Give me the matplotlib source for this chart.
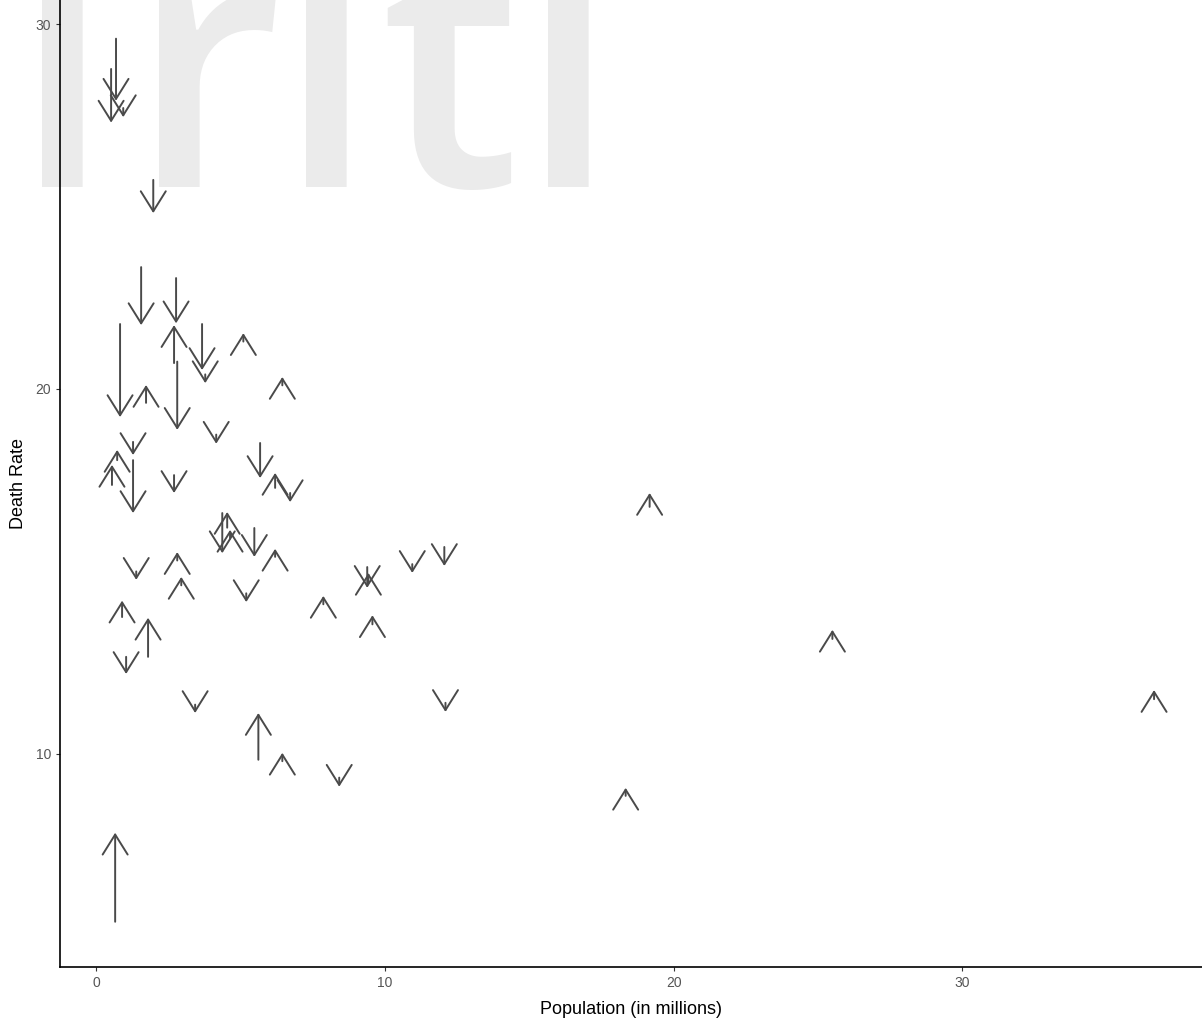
import matplotlib.pyplot as plt

# population (millions) and death rate at start / end of each arrow
pop = [0.69, 0.52, 0.94, 1.98, 1.56, 2.77, 2.70, 2.81, 3.67, 3.78,
       5.10, 6.45, 0.83, 1.73, 1.28, 0.73, 0.55, 1.28, 2.70, 4.16,
       5.68, 6.20, 6.72, 4.37, 4.54, 4.64, 5.48, 6.20, 1.39, 2.81,
       2.95, 5.20, 7.87, 0.90, 1.80, 1.04, 9.39, 9.43, 10.95, 12.06,
       9.57, 12.10, 19.17, 25.50, 18.34, 36.64, 3.43, 5.62, 6.45, 8.42,
       0.66]
rate_from = [29.6, 28.77, 27.7, 25.73, 23.34, 23.04, 20.71, 20.75, 21.78, 20.4,
             21.3, 20.1, 21.78, 19.62, 18.55, 18.05, 17.37, 18.05, 17.64, 18.75,
             18.52, 17.29, 17.15, 16.6, 16.2, 15.9, 16.19, 15.4, 15.0, 15.3,
             14.62, 14.4, 14.1, 13.75, 12.66, 12.66, 15.12, 14.7, 15.2, 15.67,
             13.55, 11.4, 16.77, 13.15, 8.85, 11.5, 11.35, 9.84, 9.8, 9.35,
             5.4]
rate_to = [27.9, 27.3, 27.45, 24.82, 21.75, 21.8, 21.75, 18.88, 20.52, 20.16,
           21.53, 20.33, 19.23, 20.11, 18.19, 18.33, 17.92, 16.6, 17.15, 18.5,
           17.56, 17.7, 16.9, 15.5, 16.63, 16.14, 15.4, 15.62, 14.77, 15.53,
           14.85, 14.16, 14.33, 14.2, 13.73, 12.19, 14.55, 14.96, 14.96, 15.15,
           13.8, 11.15, 17.15, 13.4, 9.07, 11.75, 11.12, 11.12, 10.03, 9.1,
           7.84]

x_ticks = [0, 10, 20, 30]
y_ticks = [10, 20, 30]

# watermark letters behind the plot
wm_letters = ["i", "r", "i", "t", "i"]
wm_x = [62, 206, 326, 450, 568]

fig = plt.figure(figsize=(12.02, 10.23), dpi=100)
plt.rcParams['font.family'] = ['Liberation Sans', 'DejaVu Sans']

for ch, px in zip(wm_letters, wm_x):
    fig.text(px / 1202, 1 - 187 / 1023, ch, fontsize=255, color='#ebebeb',
             family='Open Sans', weight='semibold', ha='center', va='baseline',
             zorder=-1)

ax = fig.add_axes([60 / 1202, 56 / 1023, 1142 / 1202, 967 / 1023])
ax.patch.set_alpha(0)

for x, y0, y1 in zip(pop, rate_from, rate_to):
    ax.annotate('', xy=(x, y1), xytext=(x, y0),
                arrowprops=dict(arrowstyle='->,head_length=14.4,head_width=9',
                                mutation_scale=1, shrinkA=0, shrinkB=0,
                                lw=1.4, color='#4a4a4a'))

ax.set_xlim(-1.25, 38.3)
ax.set_ylim(4.16, 30.66)
ax.set_xticks(x_ticks)
ax.set_yticks(y_ticks)
ax.spines['top'].set_visible(False)
ax.spines['right'].set_visible(False)
for s in ['left', 'bottom']:
    ax.spines[s].set_linewidth(1.2)
    ax.spines[s].set_color('black')
ax.tick_params(length=3, width=0.8, color='#333333', labelcolor='#555555',
               labelsize=10)
ax.set_xlabel('Population (in millions)', fontsize=13, labelpad=8)
ax.set_ylabel('Death Rate', fontsize=13, labelpad=6)

fig.savefig('out.png', dpi=100)
